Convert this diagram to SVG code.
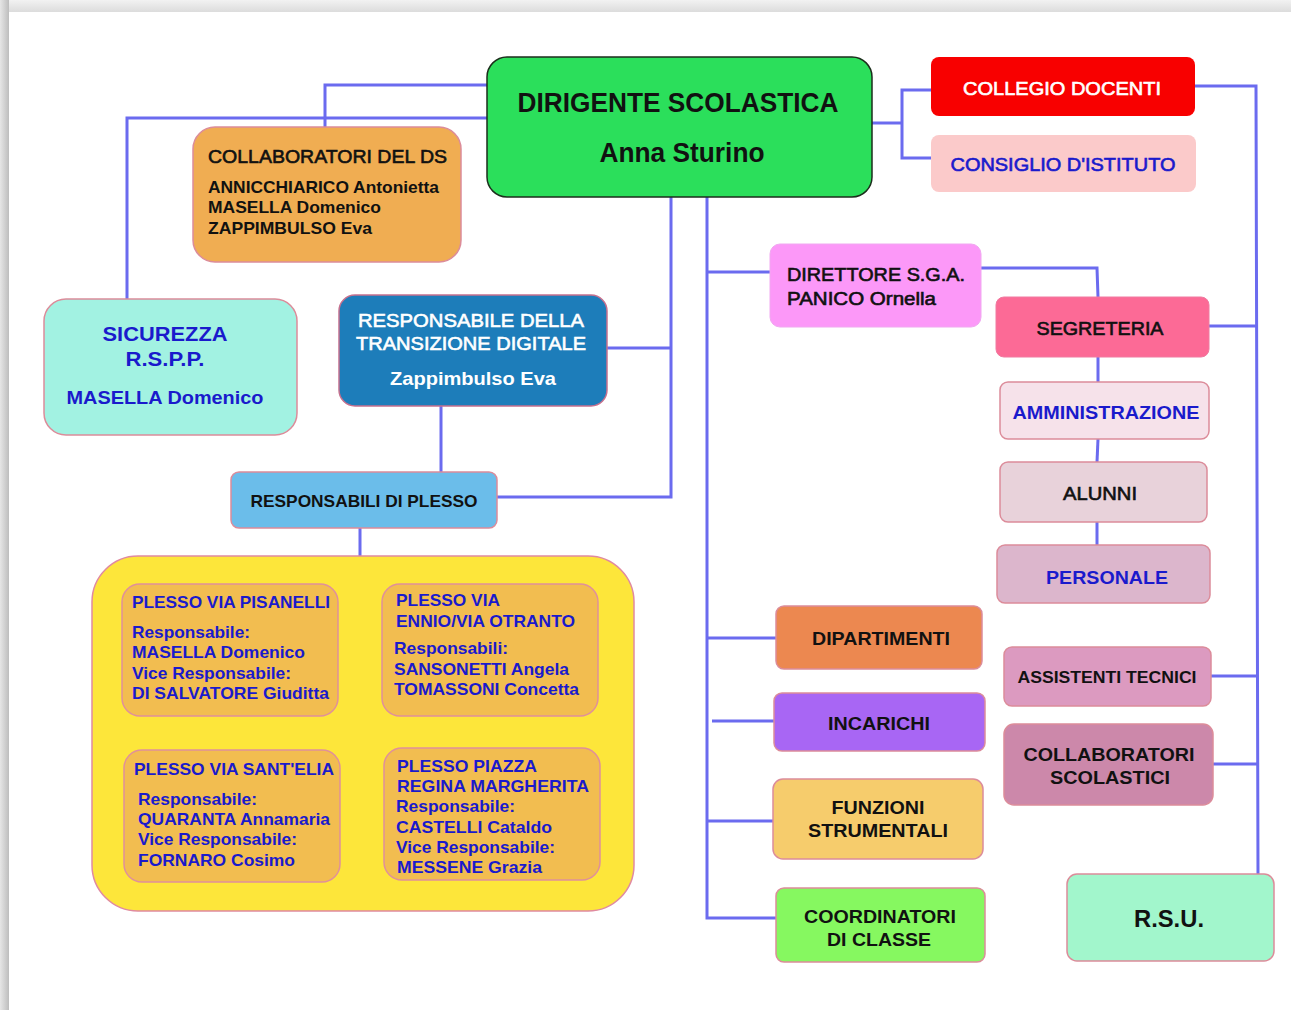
<svg xmlns="http://www.w3.org/2000/svg" width="1291" height="1010" viewBox="0 0 1291 1010">
<defs>
<linearGradient id="topsh" x1="0" y1="0" x2="0" y2="1"><stop offset="0" stop-color="#f2f2f2"/><stop offset="1" stop-color="#dcdcdc"/></linearGradient>
<linearGradient id="leftsh" x1="0" y1="0" x2="1" y2="0"><stop offset="0" stop-color="#e6e6e6"/><stop offset="1" stop-color="#bdbdbd"/></linearGradient>
</defs>
<style>
.c{fill:none;stroke:#6b6bef;stroke-width:3}
.t{font-family:"Liberation Sans",Arial,sans-serif;font-weight:bold;fill:#111}
.n{font-weight:normal;stroke:#111;stroke-width:0.6}
.b{fill:#1a1acc}
.n.b{stroke:#1a1acc}
.w{fill:#fff}
.n.w{stroke:#fff}
.m{text-anchor:middle}
.box{stroke:#dc8c9a;stroke-width:1.5}
.inner{fill:#f2bd50;stroke:#e0909a;stroke-width:1.5}
</style>
<rect x="0" y="0" width="1291" height="1010" fill="#f4f4f4"/>
<rect x="0" y="0" width="1291" height="12" fill="url(#topsh)"/>
<rect x="0" y="0" width="9" height="1010" fill="url(#leftsh)"/>
<rect x="9" y="12" width="1282" height="998" fill="#ffffff"/>

<g id="connectors">
<polyline class="c" points="487,85 325,85 325,127"/>
<polyline class="c" points="487,118 127,118 127,299"/>
<polyline class="c" points="671,197 671,497 497,497"/>
<line class="c" x1="607" y1="348" x2="671" y2="348"/>
<line class="c" x1="441" y1="406" x2="441" y2="472"/>
<line class="c" x1="360" y1="528" x2="360" y2="556"/>
<polyline class="c" points="707,197 707,918 776,918"/>
<line class="c" x1="707" y1="272" x2="770" y2="272"/>
<line class="c" x1="707" y1="638" x2="776" y2="638"/>
<line class="c" x1="712" y1="721" x2="774" y2="721"/>
<line class="c" x1="707" y1="821" x2="773" y2="821"/>
<line class="c" x1="872" y1="123" x2="902" y2="123"/>
<polyline class="c" points="931,90 902,90 902,158 931,158"/>
<polyline class="c" points="1195,86 1256,86 1258,875"/>
<line class="c" x1="1209" y1="326" x2="1257" y2="326"/>
<line class="c" x1="1211" y1="676" x2="1257" y2="676"/>
<line class="c" x1="1213" y1="764" x2="1257" y2="764"/>
<polyline class="c" points="981,268 1097,268 1098,297"/>
<line class="c" x1="1098" y1="357" x2="1098" y2="382"/>
<line class="c" x1="1098" y1="439" x2="1097" y2="462"/>
<line class="c" x1="1097" y1="522" x2="1097" y2="545"/>
</g>

<g id="dirigente">
<rect x="487" y="57" width="385" height="140" rx="20" fill="#2bdf5b" stroke="#1c2e1c" stroke-width="1.5"/>
<text class="t" x="678" y="112" font-size="27" text-anchor="middle" textLength="321" lengthAdjust="spacingAndGlyphs">DIRIGENTE SCOLASTICA</text>
<text class="t" x="682" y="162" font-size="27" text-anchor="middle" textLength="165" lengthAdjust="spacingAndGlyphs">Anna Sturino</text>
</g>

<g id="collaboratori-ds">
<rect class="box" x="193" y="127" width="268" height="135" rx="22" fill="#f0ad52"/>
<text class="t n" x="208" y="163" font-size="18" textLength="239" lengthAdjust="spacingAndGlyphs">COLLABORATORI DEL DS</text>
<text class="t" x="208" y="193" font-size="17" textLength="231" lengthAdjust="spacingAndGlyphs">ANNICCHIARICO Antonietta</text>
<text class="t" x="208" y="213" font-size="17" textLength="173" lengthAdjust="spacingAndGlyphs">MASELLA Domenico</text>
<text class="t" x="208" y="234" font-size="17" textLength="164" lengthAdjust="spacingAndGlyphs">ZAPPIMBULSO Eva</text>
</g>

<g id="sicurezza">
<rect class="box" x="44" y="299" width="253" height="136" rx="22" fill="#a2f2e2"/>
<text class="t b m" x="165" y="341" font-size="21" textLength="125" lengthAdjust="spacingAndGlyphs">SICUREZZA</text>
<text class="t b m" x="165" y="366" font-size="21" textLength="79" lengthAdjust="spacingAndGlyphs">R.S.P.P.</text>
<text class="t b m" x="165" y="404" font-size="19" textLength="197" lengthAdjust="spacingAndGlyphs">MASELLA Domenico</text>
</g>

<g id="transizione-digitale">
<rect x="339" y="295" width="268" height="111" rx="16" fill="#1d7dba" stroke="#c5708e" stroke-width="1.5"/>
<text class="t n w m" x="471" y="327" font-size="19" textLength="226" lengthAdjust="spacingAndGlyphs">RESPONSABILE DELLA</text>
<text class="t n w m" x="471" y="350" font-size="19" textLength="230" lengthAdjust="spacingAndGlyphs">TRANSIZIONE DIGITALE</text>
<text class="t w m" x="473" y="385" font-size="19" textLength="166" lengthAdjust="spacingAndGlyphs">Zappimbulso Eva</text>
</g>

<g id="responsabili-plesso">
<rect class="box" x="231" y="472" width="266" height="56" rx="8" fill="#6bbdea"/>
<text class="t m" x="364" y="507" font-size="17" textLength="227" lengthAdjust="spacingAndGlyphs">RESPONSABILI DI PLESSO</text>
</g>

<g id="plessi">
<rect x="92" y="556" width="542" height="355" rx="46" fill="#fde63a" stroke="#e08aa0" stroke-width="1.5"/>
</g>

<g id="plesso-pisanelli">
<rect class="inner" x="122" y="584" width="216" height="132" rx="18"/>
<text class="t b" x="132" y="608" font-size="16.5" textLength="198" lengthAdjust="spacingAndGlyphs">PLESSO VIA PISANELLI</text>
<text class="t b" x="132" y="638" font-size="16.5" textLength="118" lengthAdjust="spacingAndGlyphs">Responsabile:</text>
<text class="t b" x="132" y="658" font-size="16.5" textLength="173" lengthAdjust="spacingAndGlyphs">MASELLA Domenico</text>
<text class="t b" x="132" y="679" font-size="16.5" textLength="159" lengthAdjust="spacingAndGlyphs">Vice Responsabile:</text>
<text class="t b" x="132" y="699" font-size="16.5" textLength="197" lengthAdjust="spacingAndGlyphs">DI SALVATORE Giuditta</text>
</g>

<g id="plesso-ennio">
<rect class="inner" x="382" y="584" width="216" height="132" rx="18"/>
<text class="t b" x="396" y="606" font-size="16.5" textLength="104" lengthAdjust="spacingAndGlyphs">PLESSO VIA</text>
<text class="t b" x="396" y="627" font-size="16.5" textLength="179" lengthAdjust="spacingAndGlyphs">ENNIO/VIA OTRANTO</text>
<text class="t b" x="394" y="654" font-size="16.5" textLength="114" lengthAdjust="spacingAndGlyphs">Responsabili:</text>
<text class="t b" x="394" y="675" font-size="16.5" textLength="175" lengthAdjust="spacingAndGlyphs">SANSONETTI Angela</text>
<text class="t b" x="394" y="695" font-size="16.5" textLength="185" lengthAdjust="spacingAndGlyphs">TOMASSONI Concetta</text>
</g>

<g id="plesso-santelia">
<rect class="inner" x="124" y="750" width="216" height="132" rx="18"/>
<text class="t b" x="134" y="775" font-size="16.5" textLength="200" lengthAdjust="spacingAndGlyphs">PLESSO VIA SANT'ELIA</text>
<text class="t b" x="138" y="805" font-size="16.5" textLength="119" lengthAdjust="spacingAndGlyphs">Responsabile:</text>
<text class="t b" x="138" y="825" font-size="16.5" textLength="192" lengthAdjust="spacingAndGlyphs">QUARANTA Annamaria</text>
<text class="t b" x="138" y="845" font-size="16.5" textLength="159" lengthAdjust="spacingAndGlyphs">Vice Responsabile:</text>
<text class="t b" x="138" y="866" font-size="16.5" textLength="157" lengthAdjust="spacingAndGlyphs">FORNARO Cosimo</text>
</g>

<g id="plesso-piazza">
<rect class="inner" x="384" y="748" width="216" height="132" rx="18"/>
<text class="t b" x="397" y="772" font-size="16.5" textLength="140" lengthAdjust="spacingAndGlyphs">PLESSO PIAZZA</text>
<text class="t b" x="397" y="792" font-size="16.5" textLength="192" lengthAdjust="spacingAndGlyphs">REGINA MARGHERITA</text>
<text class="t b" x="396" y="812" font-size="16.5" textLength="119" lengthAdjust="spacingAndGlyphs">Responsabile:</text>
<text class="t b" x="396" y="833" font-size="16.5" textLength="156" lengthAdjust="spacingAndGlyphs">CASTELLI Cataldo</text>
<text class="t b" x="396" y="853" font-size="16.5" textLength="159" lengthAdjust="spacingAndGlyphs">Vice Responsabile:</text>
<text class="t b" x="397" y="873" font-size="16.5" textLength="145" lengthAdjust="spacingAndGlyphs">MESSENE Grazia</text>
</g>

<g id="collegio-docenti">
<rect x="931" y="57" width="264" height="59" rx="8" fill="#f80000"/>
<text class="t n w m" x="1062" y="95" font-size="18" textLength="198" lengthAdjust="spacingAndGlyphs">COLLEGIO DOCENTI</text>
</g>

<g id="consiglio-istituto">
<rect x="931" y="135" width="265" height="57" rx="8" fill="#fbcaca"/>
<text class="t n b m" x="1063" y="171" font-size="18" textLength="225" lengthAdjust="spacingAndGlyphs">CONSIGLIO D'ISTITUTO</text>
</g>

<g id="direttore-sga">
<rect x="770" y="244" width="211" height="83" rx="10" fill="#fc98f8" stroke="#f0a8f0" stroke-width="1"/>
<text class="t n" x="787" y="281" font-size="18" textLength="178" lengthAdjust="spacingAndGlyphs">DIRETTORE S.G.A.</text>
<text class="t n" x="787" y="305" font-size="18" textLength="149" lengthAdjust="spacingAndGlyphs">PANICO Ornella</text>
</g>

<g id="segreteria">
<rect x="996" y="297" width="213" height="60" rx="8" fill="#fc6a96" stroke="#f07aa0" stroke-width="1"/>
<text class="t n m" x="1100" y="335" font-size="18" textLength="127" lengthAdjust="spacingAndGlyphs">SEGRETERIA</text>
</g>

<g id="amministrazione">
<rect class="box" x="1000" y="382" width="209" height="57" rx="8" fill="#f6e2ea" stroke="#e8809c"/>
<text class="t b m" x="1106" y="419" font-size="18" textLength="187" lengthAdjust="spacingAndGlyphs">AMMINISTRAZIONE</text>
</g>

<g id="alunni">
<rect class="box" x="1000" y="462" width="207" height="60" rx="8" fill="#e8d2da" stroke="#e8809c"/>
<text class="t n m" x="1100" y="500" font-size="18" textLength="74" lengthAdjust="spacingAndGlyphs">ALUNNI</text>
</g>

<g id="personale">
<rect class="box" x="997" y="545" width="213" height="58" rx="8" fill="#dcb6cc" stroke="#e8809c"/>
<text class="t b m" x="1107" y="584" font-size="18" textLength="122" lengthAdjust="spacingAndGlyphs">PERSONALE</text>
</g>

<g id="dipartimenti">
<rect class="box" x="776" y="606" width="206" height="63" rx="8" fill="#ec8850"/>
<text class="t m" x="881" y="645" font-size="17.5" textLength="138" lengthAdjust="spacingAndGlyphs">DIPARTIMENTI</text>
</g>

<g id="incarichi">
<rect class="box" x="774" y="693" width="211" height="58" rx="8" fill="#a866f4"/>
<text class="t m" x="879" y="730" font-size="17.5" textLength="102" lengthAdjust="spacingAndGlyphs">INCARICHI</text>
</g>

<g id="funzioni-strumentali">
<rect class="box" x="773" y="779" width="210" height="80" rx="10" fill="#f6cc6c"/>
<text class="t m" x="878" y="814" font-size="17.5" textLength="93" lengthAdjust="spacingAndGlyphs">FUNZIONI</text>
<text class="t m" x="878" y="837" font-size="17.5" textLength="140" lengthAdjust="spacingAndGlyphs">STRUMENTALI</text>
</g>

<g id="coordinatori-classe">
<rect class="box" x="776" y="888" width="209" height="74" rx="8" fill="#86f860"/>
<text class="t m" x="880" y="923" font-size="18" textLength="152" lengthAdjust="spacingAndGlyphs">COORDINATORI</text>
<text class="t m" x="879" y="946" font-size="18" textLength="104" lengthAdjust="spacingAndGlyphs">DI CLASSE</text>
</g>

<g id="assistenti-tecnici">
<rect class="box" x="1004" y="647" width="207" height="59" rx="8" fill="#dc9ac0"/>
<text class="t m" x="1107" y="683" font-size="16" textLength="179" lengthAdjust="spacingAndGlyphs">ASSISTENTI TECNICI</text>
</g>

<g id="collaboratori-scolastici">
<rect class="box" x="1004" y="724" width="209" height="81" rx="10" fill="#cc88aa"/>
<text class="t m" x="1109" y="761" font-size="18" textLength="171" lengthAdjust="spacingAndGlyphs">COLLABORATORI</text>
<text class="t m" x="1110" y="784" font-size="18" textLength="120" lengthAdjust="spacingAndGlyphs">SCOLASTICI</text>
</g>

<g id="rsu">
<rect class="box" x="1067" y="874" width="207" height="87" rx="10" fill="#a2f6cc"/>
<text class="t m" x="1169" y="927" font-size="23" textLength="70" lengthAdjust="spacingAndGlyphs">R.S.U.</text>
</g>
</svg>
